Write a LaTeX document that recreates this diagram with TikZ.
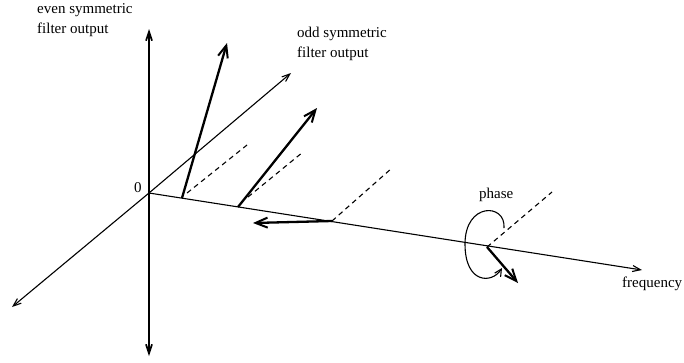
\documentclass[tikz,border=0pt]{standalone}
\usepackage{fontspec}
\setmainfont{Liberation Serif}
\usetikzlibrary{arrows.meta}
\begin{document}
\begin{tikzpicture}[x=1pt,y=-1pt,
  axis/.style={line width=1.1pt,-{Straight Barb[length=8pt,width=6pt]}},
  vaxis/.style={line width=1.7pt,-{Straight Barb[length=9pt,width=6pt]}},
  vec/.style={line width=2.3pt,-{Straight Barb[length=12pt,width=10pt,line width=2pt]}},
  dashln/.style={line width=1.1pt,dash pattern=on 5pt off 4pt},
  lbl/.style={font=\fontsize{15}{18}\selectfont,inner sep=0pt,anchor=base west}]
\useasboundingbox (0,0) rectangle (684,362);
\coordinate (O) at (149,193);
\coordinate (vtop) at (149,29);
\coordinate (vbot) at (149,356);
\coordinate (dtop) at (291,73);
\coordinate (dbot) at (12,307);
\coordinate (ftip) at (642,270);
\coordinate (p1) at (182,198);
\coordinate (p2) at (238,207);
\coordinate (p3) at (332,221);
\coordinate (p4) at (487,247);
\coordinate (t1) at (227,43);
\coordinate (t2) at (317,108);
\coordinate (t3) at (253,223);
\coordinate (t4) at (518,283);
\coordinate (d1a) at (187,193);
\coordinate (d1b) at (247,145);
\coordinate (d2a) at (248,197);
\coordinate (d2b) at (303,152);
\coordinate (d3b) at (392,168);
\coordinate (d4b) at (552,192);
% axes
\draw[vaxis] (O) -- (vtop);
\draw[vaxis] (O) -- (vbot);
\draw[axis] (O) -- (dtop);
\draw[axis] (O) -- (dbot);
\draw[axis] (O) -- (ftip);
% dashed
\draw[dashln] (d1a) -- (d1b);
\draw[dashln] (d2a) -- (d2b);
\draw[dashln] (p3) -- (d3b);
\draw[dashln] (p4) -- (d4b);
% vectors
\draw[vec] (p1) -- (t1);
\draw[vec] (p2) -- (t2);
\draw[vec] (p3) -- (t3);
\draw[vec] (p4) -- (t4);
% phase arc
\coordinate (ps) at (504,228);
\coordinate (pe) at (502,268);
\draw[line width=1.1pt,-{Straight Barb[length=7pt,width=7pt]}] (ps) .. controls (506,203) and (465,202) .. (465,244) .. controls (465,284) and (492,284) .. (pe);
% labels
\node[lbl] (even1) at (37,13) {even symmetric};
\node[lbl] (even2) at (37,33) {filter output};
\node[lbl] (odd1) at (297,37) {odd symmetric};
\node[lbl] (odd2) at (297,57) {filter output};
\node[lbl] (zero) at (134,192) {0};
\node[lbl] (phase) at (479,198) {phase};
\node[lbl] (freq) at (622,287) {frequency};
\end{tikzpicture}
\end{document}
